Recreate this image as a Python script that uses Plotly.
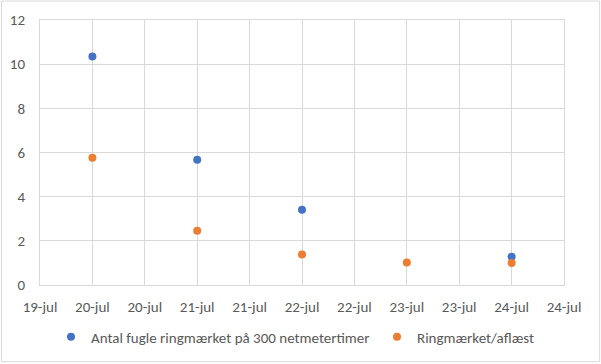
import plotly.graph_objects as go

dates = ["2019-07-20", "2019-07-21", "2019-07-22", "2019-07-23", "2019-07-24"]
antal = [10.35, 5.67, 3.41, None, 1.28]
ringmaerket = [5.76, 2.46, 1.38, 1.02, 1.0]

tick_vals = ["2019-07-19 12:00", "2019-07-20 00:00", "2019-07-20 12:00", "2019-07-21 00:00",
             "2019-07-21 12:00", "2019-07-22 00:00", "2019-07-22 12:00", "2019-07-23 00:00",
             "2019-07-23 12:00", "2019-07-24 00:00", "2019-07-24 12:00"]
tick_text = ["19-jul", "20-jul", "20-jul", "21-jul", "21-jul", "22-jul", "22-jul",
             "23-jul", "23-jul", "24-jul", "24-jul"]
y_ticks = [0, 2, 4, 6, 8, 10, 12]

FONT = "Calibri, Carlito, Liberation Sans, sans-serif"
GRAY = "#595959"
W, H = 601, 364
ML, MR, MT, MB = 39.5, 36.7, 20, 78.7

fig = go.Figure()
fig.add_trace(go.Scatter(x=dates, y=antal, mode="markers", name="Antal fugle ringmærket på 300 netmetertimer",
                         marker=dict(color="#4472C4", size=8), legend="legend"))
fig.add_trace(go.Scatter(x=dates, y=ringmaerket, mode="markers", name="Ringmærket/aflæst",
                         marker=dict(color="#ED7D31", size=8), legend="legend2"))

LEG_Y = 1 - 337 / H
fig.update_layout(
    width=W, height=H,
    margin=dict(l=ML, r=MR, t=MT, b=MB, pad=0, autoexpand=False),
    paper_bgcolor="white", plot_bgcolor="white",
    font=dict(family=FONT, size=15, color=GRAY),
    legend=dict(x=51 / W, xanchor="left", y=LEG_Y, yanchor="middle", xref="container", yref="container",
                font=dict(family=FONT, size=15, color=GRAY), bgcolor="rgba(0,0,0,0)"),
    legend2=dict(x=377 / W, xanchor="left", y=LEG_Y, yanchor="middle", xref="container", yref="container",
                 font=dict(family=FONT, size=15, color=GRAY), bgcolor="rgba(0,0,0,0)"),
    xaxis=dict(type="date", range=[tick_vals[0], tick_vals[-1]], tickvals=tick_vals, ticktext=tick_text,
               showgrid=True, gridcolor="#D9D9D9", gridwidth=1, zeroline=False, automargin=False,
               showline=True, linecolor="#D9D9D9", linewidth=1, mirror=True,
               ticks="", ticklabelstandoff=8, tickfont=dict(family=FONT, size=15, color=GRAY)),
    yaxis=dict(range=[0, 12], tickvals=y_ticks, showgrid=True, gridcolor="#D9D9D9", gridwidth=1,
               zeroline=False, showline=True, linecolor="#D9D9D9", linewidth=1, mirror=True, automargin=False,
               ticks="", ticklabelstandoff=11, tickfont=dict(family=FONT, size=15, color=GRAY)),
    showlegend=True,
)
fig.add_shape(type="rect", xref="paper", yref="paper", x0=-(ML - 1) / (W - ML - MR), x1=1 + (MR - 1) / (W - ML - MR),
              y0=-(MB - 2) / (H - MT - MB), y1=1 + (MT - 1) / (H - MT - MB),
              line=dict(color="#D9D9D9", width=1), fillcolor="rgba(0,0,0,0)", layer="below")

fig.write_html("out.html", config={"displayModeBar": False},
               post_script="document.body.style.margin='0';document.body.style.overflow='hidden';")
